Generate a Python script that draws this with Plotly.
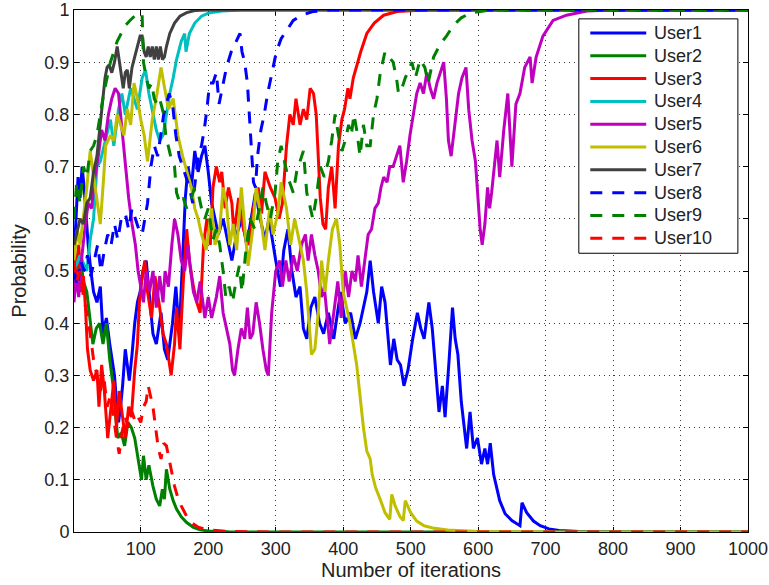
import plotly.graph_objects as go

# ---- iteration / probability samples for each user ----
u1_iter = [1, 4, 7, 10, 13, 16, 19, 22, 26, 30, 35, 40, 44, 49, 54, 58, 61, 64, 67, 70, 73, 77, 80, 83, 87, 91, 95, 99,
           103, 108, 113, 118, 123, 130, 135, 140, 147, 152, 157, 162, 166, 170, 175, 180, 185, 190, 195, 200, 205, 210,
           215, 222, 230, 235, 242, 250, 257, 264, 270, 277, 284, 290, 296, 300, 307, 312, 318, 324, 330, 336, 341, 346,
           352, 358, 365, 371, 378, 386, 396, 403, 411, 418, 425, 435, 440, 445, 452, 457, 462, 467, 470, 475, 480, 485,
           490, 496, 503, 510, 515, 520, 527, 532, 539, 542, 547, 551, 557, 562, 566, 570, 575, 583, 588, 593, 599, 605,
           610, 614, 618, 623, 632, 640, 650, 662, 665, 672, 682, 692, 705, 720, 750, 800, 1000]
u1_prob = [0.52, 0.60, 0.68, 0.64, 0.70, 0.66, 0.60, 0.55, 0.50, 0.46, 0.44, 0.47, 0.38, 0.41, 0.36, 0.32, 0.30, 0.25,
           0.21, 0.24, 0.28, 0.35, 0.32, 0.29, 0.34, 0.40, 0.44, 0.46, 0.50, 0.52, 0.45, 0.38, 0.36, 0.42, 0.35, 0.33,
           0.40, 0.47, 0.38, 0.52, 0.64, 0.70, 0.66, 0.73, 0.69, 0.72, 0.74, 0.69, 0.63, 0.60, 0.57, 0.60, 0.55, 0.52,
           0.57, 0.60, 0.55, 0.60, 0.65, 0.60, 0.56, 0.60, 0.55, 0.52, 0.47, 0.54, 0.58, 0.50, 0.45, 0.47, 0.39, 0.37,
           0.43, 0.45, 0.40, 0.38, 0.42, 0.37, 0.46, 0.40, 0.42, 0.37, 0.40, 0.46, 0.52, 0.46, 0.40, 0.47, 0.44, 0.37,
           0.32, 0.37, 0.33, 0.32, 0.28, 0.31, 0.37, 0.42, 0.39, 0.37, 0.44, 0.39, 0.28, 0.23, 0.28, 0.22, 0.33, 0.43,
           0.37, 0.34, 0.25, 0.16, 0.23, 0.16, 0.18, 0.13, 0.16, 0.13, 0.17, 0.11, 0.06, 0.035, 0.022, 0.012, 0.056,
           0.037, 0.021, 0.012, 0.006, 0.003, 0.001, 0.0, 0.0]

u2_iter = [1, 5, 10, 15, 20, 24, 29, 34, 39, 44, 49, 54, 59, 62, 66, 71, 76, 81, 86, 91, 96, 101, 104, 108, 112, 118,
           123, 128, 132, 135, 138, 143, 148, 153, 160, 168, 178, 188, 200, 230, 300, 1000]
u2_prob = [0.55, 0.50, 0.53, 0.48, 0.46, 0.42, 0.36, 0.39, 0.40, 0.36, 0.40, 0.33, 0.28, 0.23, 0.18, 0.19, 0.165, 0.21,
           0.20, 0.18, 0.14, 0.10, 0.146, 0.10, 0.128, 0.088, 0.063, 0.05, 0.082, 0.063, 0.12, 0.082, 0.06, 0.044,
           0.029, 0.018, 0.009, 0.004, 0.002, 0.0005, 0.0, 0.0]

u3_iter = [1, 4, 8, 12, 15, 18, 21, 25, 30, 35, 38, 42, 46, 51, 56, 60, 64, 68, 73, 77, 82, 86, 91, 95, 98, 101, 106,
           110, 116, 121, 128, 133, 138, 143, 145, 150, 153, 158, 163, 168, 172, 178, 183, 188, 193, 198, 203, 207,
           212, 217, 220, 225, 230, 235, 238, 245, 252, 260, 267, 274, 279, 284, 292, 299, 305, 310, 316, 321, 326,
           330, 336, 341, 346, 351, 356, 360, 363, 366, 370, 374, 378, 383, 388, 393, 398, 402, 407, 410, 415, 421,
           426, 435, 446, 460, 480, 520, 1000]
u3_prob = [0.45, 0.50, 0.55, 0.46, 0.49, 0.43, 0.35, 0.31, 0.29, 0.31, 0.24, 0.32, 0.27, 0.18, 0.24, 0.29, 0.20, 0.27,
           0.22, 0.18, 0.24, 0.22, 0.31, 0.36, 0.44, 0.48, 0.52, 0.46, 0.41, 0.49, 0.43, 0.38, 0.36, 0.32, 0.30, 0.36,
           0.43, 0.35, 0.48, 0.58, 0.52, 0.47, 0.44, 0.42, 0.55, 0.60, 0.55, 0.66, 0.70, 0.67, 0.69, 0.62, 0.66, 0.63,
           0.57, 0.64, 0.58, 0.55, 0.62, 0.66, 0.61, 0.69, 0.66, 0.64, 0.60, 0.63, 0.74, 0.80, 0.78, 0.83, 0.78, 0.81,
           0.79, 0.85, 0.84, 0.80, 0.73, 0.64, 0.59, 0.58, 0.66, 0.70, 0.62, 0.74, 0.79, 0.81, 0.85, 0.83, 0.87, 0.90,
           0.92, 0.955, 0.975, 0.99, 0.997, 1.0, 1.0]

u4_iter = [1, 10, 20, 25, 30, 35, 40, 47, 55, 60, 67, 72, 77, 85, 95, 102, 107, 112, 118, 123, 128, 133, 138, 143,
           148, 153, 160, 165, 167, 172, 180, 190, 200, 220, 250, 1000]
u4_prob = [0.50, 0.53, 0.50, 0.56, 0.60, 0.70, 0.71, 0.75, 0.79, 0.74, 0.81, 0.84, 0.80, 0.85, 0.81, 0.87, 0.885, 0.84,
           0.80, 0.77, 0.75, 0.76, 0.80, 0.84, 0.87, 0.905, 0.94, 0.955, 0.92, 0.955, 0.975, 0.988, 0.994, 0.998,
           1.0, 1.0]

u5_iter = [1, 4, 8, 12, 17, 22, 27, 32, 37, 42, 47, 52, 57, 62, 67, 70, 74, 78, 82, 87, 92, 96, 100, 104, 108, 113,
           118, 123, 128, 133, 136, 141, 146, 150, 155, 160, 165, 170, 173, 178, 183, 188, 195, 200, 205, 212, 217,
           222, 227, 232, 236, 239, 244, 249, 254, 258, 262, 266, 271, 276, 281, 286, 289, 294, 300, 306, 310, 315,
           320, 326, 332, 338, 344, 348, 353, 358, 363, 368, 372, 376, 380, 385, 392, 397, 403, 408, 413, 418, 422,
           427, 432, 437, 442, 447, 452, 456, 460, 465, 469, 474, 479, 484, 489, 494, 499, 504, 509, 514, 519, 524,
           529, 534, 539, 544, 549, 553, 556, 560, 564, 571, 576, 582, 586, 591, 596, 599, 603, 606, 610, 614, 617,
           620, 625, 628, 632, 638, 644, 650, 656, 662, 669, 677, 680, 686, 696, 711, 731, 761, 800, 1000]
u5_prob = [0.44, 0.49, 0.45, 0.52, 0.58, 0.63, 0.62, 0.68, 0.72, 0.77, 0.75, 0.80, 0.83, 0.85, 0.84, 0.80, 0.74, 0.69,
           0.64, 0.59, 0.55, 0.50, 0.47, 0.44, 0.50, 0.46, 0.50, 0.43, 0.49, 0.44, 0.50, 0.47, 0.55, 0.60, 0.57, 0.52,
           0.50, 0.55, 0.51, 0.46, 0.44, 0.48, 0.41, 0.45, 0.41, 0.45, 0.49, 0.42, 0.39, 0.36, 0.31, 0.30, 0.35, 0.39,
           0.37, 0.43, 0.37, 0.38, 0.44, 0.40, 0.35, 0.31, 0.30, 0.42, 0.50, 0.52, 0.47, 0.52, 0.48, 0.53, 0.50, 0.55,
           0.57, 0.52, 0.57, 0.53, 0.50, 0.45, 0.47, 0.42, 0.36, 0.41, 0.48, 0.41, 0.50, 0.45, 0.50, 0.48, 0.53, 0.47,
           0.52, 0.57, 0.58, 0.62, 0.63, 0.66, 0.68, 0.67, 0.70, 0.70, 0.72, 0.74, 0.67, 0.71, 0.76, 0.80, 0.84, 0.86,
           0.84, 0.88, 0.85, 0.83, 0.86, 0.88, 0.90, 0.83, 0.75, 0.72, 0.76, 0.84, 0.87, 0.89, 0.81, 0.75, 0.71, 0.66,
           0.58, 0.55, 0.59, 0.66, 0.62, 0.65, 0.72, 0.75, 0.68, 0.77, 0.84, 0.70, 0.82, 0.84, 0.89, 0.91, 0.86, 0.91,
           0.95, 0.98, 0.99, 0.998, 1.0, 1.0]

u6_iter = [1, 6, 10, 15, 20, 25, 30, 35, 40, 45, 48, 55, 60, 65, 70, 75, 80, 85, 90, 95, 100, 105, 110, 117, 124, 130,
           134, 141, 148, 155, 162, 168, 175, 180, 185, 190, 197, 205, 210, 217, 222, 227, 232, 237, 242, 249, 254,
           259, 266, 271, 276, 284, 291, 296, 303, 308, 316, 322, 328, 335, 341, 346, 350, 353, 358, 363, 368, 373,
           378, 384, 390, 395, 400, 405, 410, 415, 420, 425, 430, 435, 440, 443, 448, 455, 462, 469, 472, 477, 484,
           489, 492, 500, 509, 520, 535, 555, 600, 700, 1000]
u6_prob = [0.52, 0.58, 0.55, 0.60, 0.66, 0.73, 0.68, 0.64, 0.59, 0.68, 0.74, 0.76, 0.75, 0.80, 0.78, 0.76, 0.81, 0.78,
           0.86, 0.83, 0.79, 0.76, 0.71, 0.79, 0.84, 0.89, 0.86, 0.81, 0.83, 0.76, 0.72, 0.69, 0.66, 0.62, 0.60, 0.57,
           0.54, 0.62, 0.55, 0.58, 0.66, 0.63, 0.55, 0.59, 0.54, 0.66, 0.59, 0.51, 0.58, 0.66, 0.62, 0.54, 0.62, 0.57,
           0.61, 0.67, 0.62, 0.55, 0.60, 0.56, 0.52, 0.46, 0.38, 0.34, 0.35, 0.42, 0.52, 0.46, 0.52, 0.58, 0.60, 0.55,
           0.46, 0.43, 0.40, 0.36, 0.32, 0.26, 0.20, 0.155, 0.14, 0.11, 0.085, 0.062, 0.037, 0.024, 0.072, 0.05, 0.03,
           0.022, 0.06, 0.037, 0.021, 0.012, 0.007, 0.004, 0.001, 0.0, 0.0]

u7_iter = [1, 5, 10, 15, 20, 25, 30, 35, 40, 43, 47, 50, 53, 57, 61, 65, 68, 71, 74, 77, 80, 83, 87, 91, 95, 99, 102,
           105, 108, 111, 114, 117, 120, 123, 126, 129, 132, 135, 138, 143, 150, 158, 168, 180, 200, 1000]
u7_prob = [0.55, 0.57, 0.60, 0.59, 0.63, 0.64, 0.69, 0.72, 0.78, 0.81, 0.87, 0.89, 0.895, 0.88, 0.90, 0.93, 0.90, 0.87,
           0.85, 0.88, 0.885, 0.85, 0.89, 0.91, 0.93, 0.95, 0.95, 0.92, 0.91, 0.93, 0.91, 0.93, 0.905, 0.93, 0.905,
           0.93, 0.905, 0.91, 0.93, 0.955, 0.975, 0.988, 0.995, 0.999, 1.0, 1.0]

u8_iter = [1, 6, 11, 16, 21, 26, 31, 36, 41, 46, 51, 56, 61, 66, 71, 77, 82, 87, 92, 97, 102, 106, 110, 115, 120, 125,
           130, 134, 138, 142, 147, 152, 157, 162, 167, 172, 177, 181, 185, 190, 194, 198, 202, 207, 212, 216, 221,
           227, 234, 241, 247, 250, 254, 258, 261, 264, 267, 270, 273, 278, 283, 288, 294, 301, 308, 316, 326, 338,
           355, 380, 1000]
u8_prob = [0.50, 0.47, 0.52, 0.50, 0.53, 0.49, 0.52, 0.55, 0.50, 0.54, 0.57, 0.55, 0.59, 0.56, 0.60, 0.61, 0.58, 0.62,
           0.60, 0.58, 0.57, 0.60, 0.63, 0.70, 0.74, 0.72, 0.77, 0.80, 0.82, 0.84, 0.82, 0.76, 0.72, 0.70, 0.68, 0.66,
           0.63, 0.68, 0.72, 0.74, 0.77, 0.81, 0.86, 0.86, 0.88, 0.82, 0.85, 0.89, 0.92, 0.94, 0.955, 0.92, 0.90, 0.86,
           0.80, 0.74, 0.67, 0.66, 0.72, 0.77, 0.80, 0.84, 0.88, 0.92, 0.945, 0.96, 0.98, 0.99, 0.997, 1.0, 1.0]

u9_iter = [1, 5, 10, 15, 20, 25, 30, 35, 40, 45, 50, 55, 60, 65, 71, 77, 84, 92, 98, 102, 104, 108, 112, 116, 120,
           124, 128, 134, 137, 142, 146, 150, 153, 158, 163, 168, 175, 180, 185, 190, 195, 200, 207, 212, 217, 222,
           226, 231, 236, 241, 246, 250, 255, 262, 269, 276, 281, 286, 292, 299, 303, 308, 313, 318, 326, 331, 336,
           341, 346, 350, 355, 360, 366, 372, 378, 383, 388, 393, 398, 403, 408, 412, 416, 420, 425, 430, 435, 440,
           445, 450, 455, 462, 468, 474, 479, 482, 487, 492, 497, 502, 507, 514, 521, 526, 534, 544, 553, 563, 575,
           590, 620, 1000]
u9_prob = [0.60, 0.67, 0.63, 0.70, 0.68, 0.73, 0.74, 0.76, 0.80, 0.84, 0.87, 0.90, 0.92, 0.94, 0.955, 0.97, 0.98,
           0.99, 0.995, 0.99, 0.90, 0.87, 0.85, 0.86, 0.83, 0.82, 0.83, 0.80, 0.76, 0.73, 0.71, 0.70, 0.65, 0.63,
           0.64, 0.62, 0.64, 0.66, 0.65, 0.62, 0.60, 0.62, 0.56, 0.58, 0.55, 0.50, 0.45, 0.47, 0.44, 0.48, 0.51, 0.46,
           0.53, 0.60, 0.58, 0.62, 0.66, 0.63, 0.60, 0.65, 0.71, 0.74, 0.71, 0.68, 0.65, 0.69, 0.71, 0.73, 0.65, 0.63,
           0.60, 0.64, 0.70, 0.68, 0.71, 0.75, 0.80, 0.76, 0.73, 0.75, 0.78, 0.76, 0.80, 0.77, 0.72, 0.78, 0.74, 0.74,
           0.80, 0.83, 0.88, 0.92, 0.91, 0.90, 0.87, 0.84, 0.85, 0.87, 0.885, 0.90, 0.87, 0.905, 0.89, 0.86, 0.91,
           0.935, 0.95, 0.97, 0.985, 0.995, 1.0, 1.0]

u10_iter = [1, 5, 10, 15, 20, 25, 30, 35, 40, 45, 50, 55, 60, 64, 68, 72, 77, 82, 87, 92, 96, 100, 104, 108, 111, 114,
            118, 122, 126, 130, 134, 138, 143, 150, 155, 160, 168, 175, 185, 200, 230, 300, 1000]
u10_prob = [0.52, 0.48, 0.50, 0.45, 0.42, 0.38, 0.33, 0.30, 0.27, 0.30, 0.24, 0.26, 0.21, 0.18, 0.15, 0.19, 0.22, 0.20,
            0.23, 0.21, 0.22, 0.21, 0.24, 0.25, 0.28, 0.26, 0.24, 0.20, 0.16, 0.14, 0.17, 0.165, 0.13, 0.088, 0.065,
            0.05, 0.03, 0.018, 0.009, 0.004, 0.001, 0.0, 0.0]

x_tick_vals = [100, 200, 300, 400, 500, 600, 700, 800, 900, 1000]
y_tick_vals = [0, 0.1, 0.2, 0.3, 0.4, 0.5, 0.6, 0.7, 0.8, 0.9, 1]
y_tick_text = ["0", "0.1", "0.2", "0.3", "0.4", "0.5", "0.6", "0.7", "0.8", "0.9", "1"]

DASHED = "12px,10px"
series = [
    ("User1", u1_iter, u1_prob, "#0000ff", "solid"),
    ("User2", u2_iter, u2_prob, "#008000", "solid"),
    ("User3", u3_iter, u3_prob, "#ff0000", "solid"),
    ("User4", u4_iter, u4_prob, "#00bfbf", "solid"),
    ("User5", u5_iter, u5_prob, "#bf00bf", "solid"),
    ("User6", u6_iter, u6_prob, "#bfbf00", "solid"),
    ("User7", u7_iter, u7_prob, "#404040", "solid"),
    ("User8", u8_iter, u8_prob, "#0000ff", DASHED),
    ("User9", u9_iter, u9_prob, "#008000", DASHED),
    ("User10", u10_iter, u10_prob, "#ff0000", DASHED),
]

font_family = "Liberation Sans, Arial, Helvetica, sans-serif"
text_color = "#222222"

fig = go.Figure()
for name, xs, ys, color, dash in series:
    fig.add_trace(go.Scatter(
        x=xs, y=ys, mode="lines", name=name,
        line=dict(color=color, width=3, dash=dash),
    ))

# Boxed key in the upper-right corner (paper coordinates of the plot area)
key_left, key_right, key_top, key_bottom = 0.749, 0.985, 0.983, 0.534
sample_x0, sample_x1, label_x = 0.766, 0.849, 0.857
row_first, row_step = 0.956, 0.0437

fig.add_shape(type="rect", xref="paper", yref="paper",
              x0=key_left, x1=key_right, y0=key_bottom, y1=key_top,
              line=dict(color="black", width=1), fillcolor="white", layer="above")
for i, (name, _, _, color, dash) in enumerate(series):
    row_y = row_first - i * row_step
    fig.add_shape(type="line", xref="paper", yref="paper",
                  x0=sample_x0, x1=sample_x1, y0=row_y, y1=row_y,
                  line=dict(color=color, width=3, dash=dash), layer="above")
    fig.add_annotation(xref="paper", yref="paper", x=label_x, y=row_y,
                       xanchor="left", yanchor="middle", showarrow=False, text=name,
                       font=dict(family=font_family, size=18, color=text_color))

axis_common = dict(
    showline=True, linecolor="black", linewidth=1, mirror="ticks",
    ticks="inside", ticklen=5, tickcolor="black",
    showgrid=True, gridcolor="#3a3a3a", gridwidth=1, griddash="1px,4px",
    zeroline=False, layer="below traces",
    tickfont=dict(family=font_family, size=18, color=text_color),
)

fig.update_xaxes(
    range=[1, 1000], tickvals=x_tick_vals,
    title=dict(text="Number of iterations", font=dict(family=font_family, size=20, color=text_color), standoff=5),
    **axis_common,
)
fig.update_yaxes(
    range=[0, 1], tickvals=y_tick_vals, ticktext=y_tick_text,
    title=dict(text="Probability", font=dict(family=font_family, size=20, color=text_color), standoff=12),
    **axis_common,
)

fig.update_layout(
    width=769, height=585,
    margin=dict(l=74, r=21, t=10, b=53, autoexpand=False),
    paper_bgcolor="white", plot_bgcolor="white",
    showlegend=False,
)

fig.write_html("out.html")
